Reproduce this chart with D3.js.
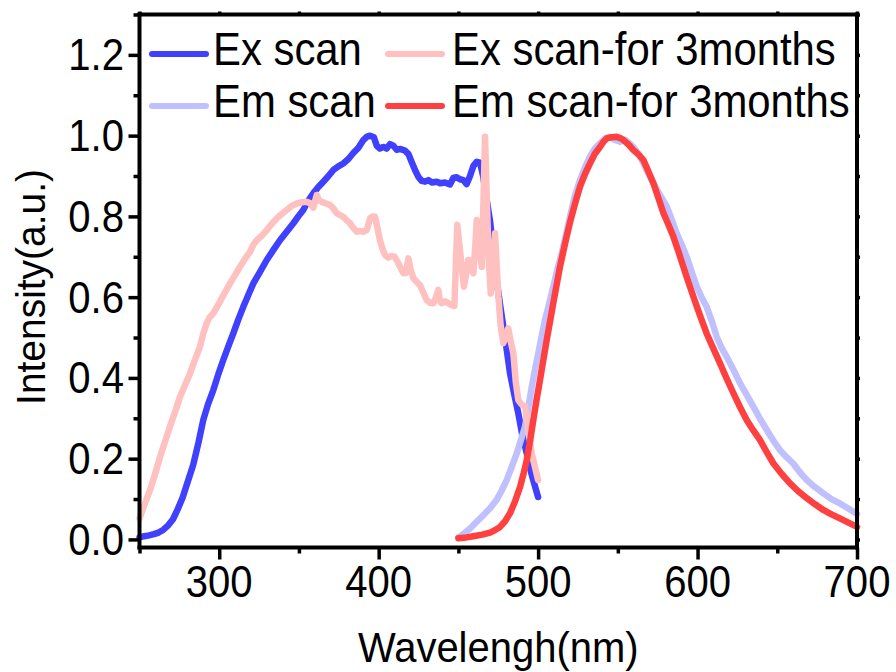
<!DOCTYPE html>
<html>
<head>
<meta charset="utf-8">
<script src="https://cdn.jsdelivr.net/npm/d3@7"></script>
<style>
  html, body { margin: 0; padding: 0; background: #fff; }
  svg { display: block; }
  text { font-family: "Liberation Sans", Arial, "DejaVu Sans", sans-serif; fill: #000; }
</style>
</head>
<body>
<svg id="chart" width="896" height="672"></svg>
<script>
// Excitation scan (fresh sample)
const exWave = [250,253,256,259,262,265,268,271,274,277,280,283.7,287,290,293,296.3,299.5,302.6,305.7,308.8,312,315.1,318.3,321.4,325.5,329.8,334,338.1,342.3,346.5,349.6,352.7,356,359,362,365.3,368.5,371.6,374.7,377.8,381,384.1,387.3,390.4,392.5,394.6,397,398.8,400.8,402.9,405,407.1,409.2,411.3,413.4,416.5,418.6,420.7,422.8,424.9,427,429.1,431.2,433.3,436.4,438.5,441.6,444.7,446.8,448.9,451,453.1,455.2,457.3,459.4,461.5,463.6,465.5,467.8,469.8,472,474,476,478.2,480.3,482.4,485,487.6,490,492.9,496,500];
const exInt  = [0.005,0.008,0.010,0.013,0.017,0.024,0.035,0.05,0.075,0.103,0.14,0.185,0.24,0.296,0.335,0.37,0.41,0.445,0.478,0.51,0.545,0.576,0.606,0.634,0.662,0.692,0.717,0.741,0.762,0.783,0.8,0.816,0.84,0.857,0.872,0.886,0.9,0.915,0.924,0.931,0.942,0.957,0.97,0.989,0.997,1.0,0.996,0.975,0.968,0.972,0.968,0.979,0.975,0.965,0.967,0.963,0.955,0.935,0.915,0.898,0.888,0.886,0.89,0.884,0.886,0.882,0.884,0.879,0.895,0.897,0.892,0.89,0.88,0.9,0.925,0.935,0.933,0.9,0.84,0.79,0.715,0.642,0.585,0.527,0.47,0.411,0.36,0.312,0.26,0.213,0.16,0.105];

// Excitation scan after 3 months
const ex3Wave = [250,253,256.6,260,262.9,266,269.1,272.3,275.4,278.5,281.7,284.8,287.9,290,292.1,294,296.3,298.5,300.5,303.6,306.8,310,313,316,319.3,321.4,323.5,326.7,329.8,333,336.1,339.2,342.3,345.5,348.6,351.7,354.9,357,359,361.2,362.6,364.3,367,369.5,371.6,373.7,375.8,377.8,380,382,384,386.2,388.3,390.4,392.5,394.6,396.2,397.7,399.3,400.8,402.4,404,406,408,410,411.5,413.4,415.5,417.2,418.6,420,421.7,423.8,425.9,428,430.1,432.2,434.3,436,437.4,438.5,439.5,441.6,443.7,445.7,447.5,449.3,450.5,451.4,452.5,453.5,455,456.2,457.8,459.4,460.5,461.5,463,464.7,465.8,466.7,468,469,470.3,471.8,473,474,475.1,476.5,478.2,480,481.3,482.8,484.5,486,487.6,489.5,491.8,494,496,498,500];
const ex3Int  = [0.052,0.085,0.122,0.165,0.205,0.242,0.279,0.316,0.353,0.382,0.411,0.445,0.477,0.51,0.535,0.55,0.56,0.575,0.589,0.612,0.634,0.655,0.675,0.694,0.712,0.73,0.741,0.752,0.766,0.782,0.795,0.806,0.816,0.826,0.832,0.835,0.836,0.833,0.822,0.853,0.84,0.836,0.832,0.828,0.82,0.808,0.803,0.799,0.79,0.783,0.772,0.762,0.764,0.762,0.766,0.795,0.8,0.799,0.77,0.741,0.72,0.704,0.698,0.702,0.7,0.69,0.675,0.659,0.66,0.696,0.67,0.647,0.638,0.63,0.612,0.593,0.586,0.585,0.6,0.618,0.59,0.585,0.59,0.585,0.58,0.578,0.779,0.735,0.70,0.66,0.626,0.66,0.692,0.69,0.659,0.72,0.791,0.73,0.675,0.85,0.997,0.82,0.7,0.609,0.68,0.758,0.68,0.601,0.53,0.486,0.51,0.523,0.49,0.461,0.39,0.345,0.335,0.329,0.27,0.213,0.18,0.147];

// Emission scan (fresh sample)
const emWave = [450,453,457.3,461,465.6,470,474,477,480.3,483.5,486.6,489.5,491.8,494,496,498,500.1,502.3,504.3,507,509.5,512,514.8,517.5,520,523,526.3,529.5,532.5,535.6,538.8,542,545.1,548,551.4,554.5,557.7,561,564,568,572.3,576.5,580.7,584,586.9,590,593.2,596.3,599.5,602.5,605.7,609,612,615,618.3,622.5,626.6,631,635,639,643.4,647.5,651.7,656,660,664,668.5,673.5,678.9,684,689.3,694,700];
const emInt  = [0.005,0.013,0.027,0.042,0.06,0.078,0.098,0.12,0.147,0.18,0.213,0.25,0.279,0.33,0.378,0.42,0.461,0.505,0.543,0.585,0.626,0.667,0.709,0.755,0.799,0.85,0.89,0.922,0.948,0.968,0.981,0.993,0.997,0.99,0.985,0.99,0.98,0.966,0.948,0.915,0.882,0.853,0.824,0.79,0.758,0.73,0.70,0.663,0.626,0.6,0.576,0.54,0.502,0.475,0.452,0.42,0.387,0.357,0.329,0.3,0.271,0.245,0.221,0.203,0.188,0.167,0.147,0.13,0.114,0.1,0.089,0.078,0.063];

// Emission scan after 3 months
const em3Wave = [450,455,459.4,465,469.9,473,476.1,479.3,482.4,485.5,488.7,491,492.9,495,497,499,501.2,503.3,505.4,507.5,509.5,511.6,513.7,515.8,517.9,520,522.1,524.2,526.3,529.4,532.5,535.6,538.8,541,543,546,549.3,551.5,553.5,556.7,559.8,563,566,569,572.3,575.5,578.6,581.7,584.8,588,591.1,594.2,597.4,601.5,605.7,610,614.1,618.3,622.5,626.6,630.8,635,639.2,643.4,647.6,652.8,658,663,668.5,673.7,678.9,684,689.3,694,700];
const em3Int  = [0.003,0.005,0.008,0.012,0.017,0.023,0.031,0.045,0.065,0.094,0.13,0.165,0.197,0.245,0.296,0.345,0.395,0.445,0.494,0.54,0.585,0.63,0.675,0.713,0.75,0.785,0.816,0.846,0.874,0.905,0.931,0.955,0.972,0.985,0.993,0.996,0.997,0.994,0.989,0.978,0.964,0.953,0.94,0.913,0.882,0.845,0.808,0.78,0.75,0.713,0.675,0.638,0.601,0.555,0.51,0.472,0.436,0.398,0.362,0.328,0.296,0.27,0.246,0.216,0.188,0.162,0.139,0.12,0.102,0.087,0.073,0.062,0.052,0.043,0.031];

const seriesNames  = ["Ex scan", "Em scan", "Ex scan-for 3months", "Em scan-for 3months"];
const seriesColors = ["#4040ff", "#c0c0ff", "#ffc0c0", "#ff4040"];

const xTickValues = [300, 400, 500, 600, 700];
const xMinorTicks = [250, 350, 450, 550, 650];
const yTickValues = [0.0, 0.2, 0.4, 0.6, 0.8, 1.0, 1.2];
const yMinorTicks = [0.1, 0.3, 0.5, 0.7, 0.9, 1.1, 1.3];

const xTitle = "Wavelengh(nm)";
const yTitle = "Intensity(a.u.)";

const svg = d3.select("#chart");
const plotL = 139.5, plotR = 857, plotT = 14.5, plotB = 547.5;

const x = d3.scaleLinear().domain([250, 700]).range([plotL, plotR]);
const y = d3.scaleLinear().domain([-0.02, 1.3]).range([plotB, plotT]);

const zip = (w, v) => w.map((d, i) => [d, v[i]]);
const series = [
  { name: seriesNames[0], color: seriesColors[0], data: zip(exWave, exInt) },
  { name: seriesNames[1], color: seriesColors[1], data: zip(emWave, emInt) },
  { name: seriesNames[2], color: seriesColors[2], data: zip(ex3Wave, ex3Int) },
  { name: seriesNames[3], color: seriesColors[3], data: zip(em3Wave, em3Int) }
];

const line = d3.line().x(d => x(d[0])).y(d => y(d[1]));

// curves
svg.append("g").selectAll("path").data(series).join("path")
  .attr("d", d => line(d.data))
  .attr("fill", "none")
  .attr("stroke", d => d.color)
  .attr("stroke-width", 6.5)
  .attr("stroke-linejoin", "round")
  .attr("stroke-linecap", "round");

// horizontally condensed text helper
function label(g, txt, px, py, size, sx, anchor, rotate) {
  return g.append("text")
    .attr("transform", `translate(${px},${py})` + (rotate ? ` rotate(${rotate})` : "") + ` scale(${sx},1)`)
    .attr("text-anchor", anchor)
    .style("font-size", size + "px")
    .text(txt);
}

// axes: major + minor ticks, frame lines
function axisGroup(tx, ty, axisFn, scale, major, minor, majLen, minLen, frameD) {
  const g = svg.append("g").attr("transform", `translate(${tx},${ty})`);
  g.append("g").call(axisFn(scale).tickValues(major).tickSize(majLen).tickFormat(""))
    .call(s => s.select(".domain").remove());
  g.append("g").call(axisFn(scale).tickValues(minor).tickSize(minLen).tickFormat(""))
    .call(s => s.select(".domain").remove());
  g.selectAll(".tick line").attr("stroke", "#000").attr("stroke-width", 3.5);
  g.append("path").attr("d", frameD).attr("stroke", "#000").attr("stroke-width", 4)
    .attr("fill", "none").attr("stroke-linecap", "square");
  return g;
}
axisGroup(0, plotB, d3.axisBottom, x, xTickValues, xMinorTicks, 12, 6, `M${plotL},0H${plotR}`);
axisGroup(plotL, 0, d3.axisLeft, y, yTickValues, yMinorTicks, 11, 6, `M0,${plotT}V${plotB}`);
axisGroup(0, plotT, d3.axisTop, x, xTickValues, xMinorTicks, 3, 3, `M${plotL},0H${plotR}`);
axisGroup(plotR, 0, d3.axisRight, y, yTickValues, yMinorTicks, 3, 3, `M0,${plotT}V${plotB}`);

// tick labels
const labels = svg.append("g");
xTickValues.forEach(v => label(labels, String(v), x(v), 597, 44, 0.91, "middle"));
yTickValues.forEach(v => label(labels, d3.format(".1f")(v), 124, y(v) + 15.5, 44, 0.91, "end"));

// axis titles
label(labels, xTitle, (plotL + plotR) / 2, 662, 43, 0.93, "middle");
label(labels, yTitle, 45, 287, 41, 0.95, "middle", -90);

// legend
const leg = svg.append("g");
const legPos = [
  { lx: 152, tx: 213, ly: 54 },
  { lx: 152, tx: 213, ly: 106 },
  { lx: 388, tx: 452, ly: 54 },
  { lx: 388, tx: 452, ly: 106 }
];
series.forEach((s, i) => {
  const p = legPos[i];
  leg.append("line")
    .attr("x1", p.lx).attr("x2", p.lx + 54)
    .attr("y1", p.ly).attr("y2", p.ly)
    .attr("stroke", s.color).attr("stroke-width", 6)
    .attr("stroke-linecap", "round");
  label(leg, s.name, p.tx, p.ly + 11, 46, 0.91, "start");
});
</script>
</body>
</html>
